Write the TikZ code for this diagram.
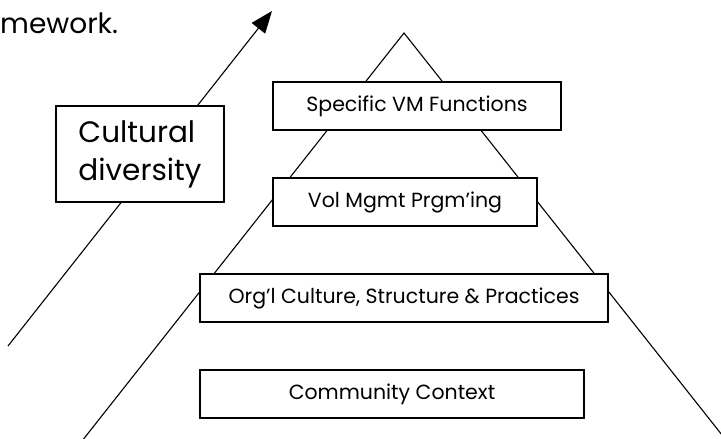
\documentclass[tikz,border=0pt]{standalone}
\usepackage{fontspec}
\setmainfont{Poppins}
\usetikzlibrary{arrows.meta}
\tikzset{
  vmline/.style={line width=1.1pt, draw=black, line cap=butt},
  vmarrow/.style={vmline, -{Triangle[length=22pt,width=17pt]}},
  vmbox/.style={fill=white, draw=black, line width=1.1pt, minimum height=48pt,
    inner sep=0pt, font=\fontsize{20.5}{24}\selectfont},
  vmbig/.style={fill=white, draw=black, line width=1.1pt, minimum width=168pt,
    minimum height=96pt, inner sep=0pt, align=left,
    font=\fontsize{29.5}{38}\selectfont},
}
\begin{document}
\begin{tikzpicture}[x=1pt,y=-1pt]
\useasboundingbox (0,0) rectangle (721,439);
% pyramid and arrow
\coordinate (apex) at (404,33);
\coordinate (footl) at (82,441);
\coordinate (footr) at (722,435);
\coordinate (tail) at (8,346);
\coordinate (tip) at (272,11);
\draw[vmline] (footl) -- (apex) -- (footr);
\draw[vmarrow] (tail) -- (tip);
% text cut off at the top
\node[anchor=base west, inner sep=0pt, font=\fontsize{28}{32}\selectfont] (frame) at (0,33) {mework.};
% levels
\node[vmbox, minimum width=288pt] (funcs) at (417,106) {Specific VM Functions};
\node[vmbox, minimum width=264pt] (prog) at (405,202) {Vol Mgmt Prgm’ing};
\node[vmbox, minimum width=408pt] (org) at (404,298) {Org’l Culture, Structure \& Practices};
\node[vmbox, minimum width=384pt] (comm) at (392,394) {Community Context};
\node[vmbig] (div) at (140,154) {Cultural\\diversity};
\end{tikzpicture}
\end{document}
